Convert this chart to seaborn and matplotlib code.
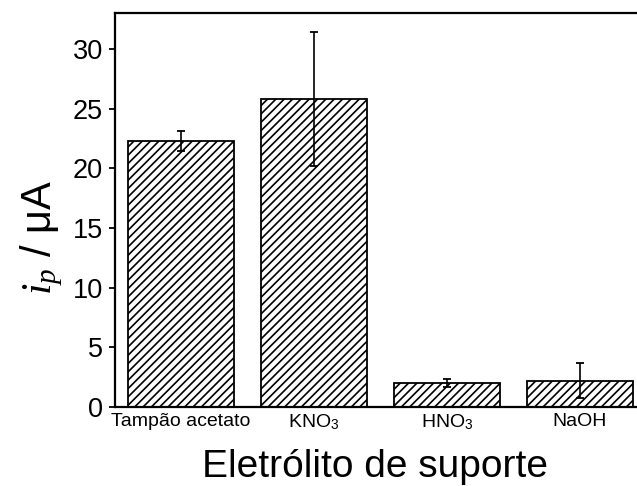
import matplotlib
matplotlib.use("Agg")
import matplotlib.pyplot as plt
import seaborn as sns
import pandas as pd

# Peak current for each supporting electrolyte (mean and standard deviation)
electrolytes = ["Tampão acetato", "KNO3", "HNO3", "NaOH"]
tick_labels = ["Tampão acetato", r"KNO$_3$", r"HNO$_3$", "NaOH"]
ip = [22.3, 25.8, 2.0, 2.2]
ip_err = [0.85, 5.65, 0.35, 1.45]
y_ticks = [0, 5, 10, 15, 20, 25, 30]

sns.set_style("ticks")
plt.rcParams["font.family"] = ["Liberation Sans", "DejaVu Sans"]
plt.rcParams["mathtext.fontset"] = "custom"
plt.rcParams["mathtext.rm"] = "Liberation Sans"
plt.rcParams["mathtext.it"] = "Liberation Serif:italic"
plt.rcParams["hatch.linewidth"] = 1.2
for key in ["text.color", "axes.labelcolor", "xtick.color", "ytick.color",
            "axes.edgecolor"]:
    plt.rcParams[key] = "black"

df = pd.DataFrame({"eletrolito": electrolytes, "ip": ip, "err": ip_err})

fig = plt.figure(figsize=(6.37, 4.86), dpi=100)
ax = fig.add_axes([114.5 / 637, 79 / 486, 532 / 637, 394 / 486])

sns.barplot(data=df, x="eletrolito", y="ip", order=electrolytes,
            color="white", edgecolor="black", linewidth=1.3,
            hatch="////", errorbar=None, width=0.8, ax=ax)
for bar in ax.patches:
    bar.set_facecolor("white")
    bar.set_edgecolor("black")

ax.errorbar(range(len(electrolytes)), df["ip"], yerr=df["err"], fmt="none",
            ecolor="black", elinewidth=1.2, capsize=3.2, capthick=1.3, zorder=5)

ax.set_xlim(-0.5, 3.5)
ax.set_ylim(0, 33.0)
ax.set_yticks(y_ticks)
ax.set_xticks(range(len(electrolytes)))
ax.set_xticklabels(tick_labels, fontsize=14)
ax.tick_params(axis="y", direction="out", length=4.5, width=1.3, pad=4,
               labelsize=19.5)
ax.tick_params(axis="x", direction="in", length=3, width=1.3, pad=4)

for side in ["left", "bottom", "top", "right"]:
    ax.spines[side].set_linewidth(1.6)

ax.set_xlabel("Eletrólito de suporte", fontsize=28, va="center")
ax.xaxis.set_label_coords(0.49, -0.153)
ax.set_ylabel(r"$i_{p}$ / μA", fontsize=30, va="center")
ax.yaxis.set_label_coords(-0.137, 0.43)

fig.savefig("out.png", dpi=100)
